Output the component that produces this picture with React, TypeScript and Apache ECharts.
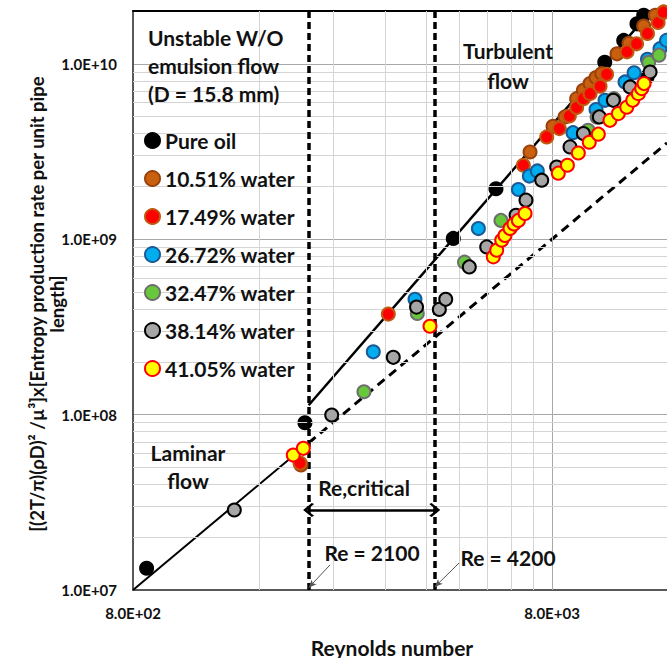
import React, { useEffect, useRef } from "react";
import * as echarts from "echarts";

// ---- axes ----
const xMin = 800;
const xMax = 15050;
const yMin = 1e7;
const yMax = 2e10;
const xTickLabels = [800, 8000];
const xMinorGrid = [1600, 2400, 3200, 4000, 4800, 5600, 6400, 7200];
const xMajorGrid = [8000];
const yMinorGrid = [
  2e7, 3e7, 4e7, 5e7, 6e7, 7e7, 8e7, 9e7,
  2e8, 3e8, 4e8, 5e8, 6e8, 7e8, 8e8, 9e8,
  2e9, 3e9, 4e9, 5e9, 6e9, 7e9, 8e9, 9e9,
];

// ---- critical Reynolds numbers ----
const reCritical = [2100, 4200];
const criticalArrowLevel = 2.86e7;

// ---- series names ----
const seriesNames = [
  "Pure oil",
  "10.51% water",
  "17.49% water",
  "26.72% water",
  "32.47% water",
  "38.14% water",
  "41.05% water",
];

// ---- data [Re, value] ----
const pureOil = [
  [862, 1.33e7], [2058, 8.98e7], [4650, 1.01e9], [5880, 1.94e9],
  [10690, 1.02e10], [11865, 1.36e10], [12760, 1.69e10], [13240, 1.89e10],
  [13490, 8.4e9],
];
const water1051 = [
  [2014, 5.16e7], [7090, 3.14e9], [8045, 4.4e9], [8590, 4.98e9], [9160, 6.33e9],
  [9505, 7.06e9], [9860, 7.71e9], [10190, 8.35e9], [10515, 8.79e9], [11435, 1.14e10],
  [12215, 1.31e10], [13240, 1.64e10], [14115, 1.89e10], [14785, 1.97e10],
];
const water1749 = [
  [2003, 5.29e7], [3254, 3.74e8], [6835, 2.64e9], [7771, 3.83e9], [8328, 4.27e9],
  [8800, 5.04e9], [9160, 5.63e9], [9505, 6.33e9], [9860, 6.76e9], [10418, 7.45e9],
  [10800, 8.71e9], [12080, 1.17e10], [12730, 1.3e10], [13520, 1.49e10],
  [14330, 1.72e10], [14750, 1.97e10],
];
const water2672 = [
  [2996, 2.28e8], [3768, 4.54e8], [5338, 1.15e9], [6650, 1.92e9], [7063, 2.29e9],
  [7379, 2.45e9], [8979, 4.05e9], [10190, 5.48e9], [10705, 6.19e9], [11950, 7.88e9],
  [12560, 8.89e9], [13520, 1.06e10], [14480, 1.22e10], [15010, 1.36e10],
];
const water3247 = [
  [2846, 1.35e8], [3816, 3.77e8], [4946, 7.4e8], [6043, 1.28e9], [9753, 4.18e9],
  [10250, 4.96e9], [11245, 6.33e9], [13610, 1.02e10], [14400, 1.12e10],
];
const water3814 = [
  [1396, 2.86e7], [2384, 9.94e7], [3344, 2.12e8], [3800, 4.1e8], [4307, 3.98e8],
  [4461, 4.54e8], [5078, 6.95e8], [5588, 9.04e8], [6566, 1.37e9], [6934, 1.67e9],
  [7560, 2.17e9], [8208, 2.58e9], [8831, 3.36e9], [9505, 4.0e9], [10376, 4.98e9],
  [11206, 6.19e9], [12286, 7.38e9], [13713, 8.98e9],
];
const water4105 = [
  [1930, 5.88e7], [2040, 6.42e7], [4091, 3.19e8], [5795, 7.93e8], [5903, 8.66e8],
  [6068, 9.87e8], [6178, 1.05e9], [6351, 1.15e9], [6492, 1.22e9], [6650, 1.28e9],
  [6898, 1.4e9], [8281, 2.38e9], [8707, 2.64e9], [9245, 3.1e9], [9818, 3.57e9],
  [10318, 3.97e9], [11000, 4.76e9], [11518, 5.2e9], [12064, 5.65e9], [12466, 6.19e9],
  [12856, 6.76e9], [13097, 7.22e9], [13264, 7.71e9],
];

// ---- fitted lines ----
const laminarFit = [[800, 1e7], [2100, 6.89e7]];
const laminarExtension = [[2100, 6.89e7], [15050, 3.54e9]];
const turbulentFit = [[2100, 1.13e8], [14000, 2.09e10]];

// ---- pointer arrows (from label to line) ----
const pointer2100 = [[2362, 1.39e7], [2100, 1.03e7]];
const pointer4200 = [[4799, 1.425e7], [4200, 1.04e7]];

const seriesData = [pureOil, water1051, water1749, water2672, water3247, water3814, water4105];
const seriesStyles = [
  { color: "#000000", borderColor: "#000000" },
  { color: "#c8600f", borderColor: "#9a420b" },
  { color: "#ff0000", borderColor: "#c0580f" },
  { color: "#00aef0", borderColor: "#1b5a96" },
  { color: "#66c83a", borderColor: "#6e6e6e" },
  { color: "#a6a6a6", borderColor: "#000000" },
  { color: "#ffff00", borderColor: "#ff0000" },
];

const FONT = "Lato, 'Open Sans', sans-serif";

const sci = (v: number) => {
  const s = Number(v).toExponential(1).toUpperCase();
  const [m, e] = s.split("E");
  return `${m}E${e[0]}${e.slice(1).padStart(2, "0")}`;
};

const chevron = "path://M0,0 L12,9 L10,11.5 L0,4 L-10,11.5 L-12,9 Z";

export default function App() {
  const ref = useRef<HTMLDivElement>(null);
  useEffect(() => {
    if (!ref.current) return;
    const chart = echarts.init(ref.current, undefined, { renderer: "svg" });
    const minor = { color: "#d4d4d4", width: 1, type: "solid" };
    const major = { color: "#a8a8a8", width: 1, type: "solid" };
    const textStyle = (extra: any) => ({
      fontFamily: FONT,
      fontWeight: "bold",
      fontSize: 21,
      fill: "#111",
      ...extra,
    });
    const option: any = {
      animation: false,
      backgroundColor: "#ffffff",
      grid: { left: 133, top: 11, right: 0, bottom: 68, containLabel: false },
      xAxis: [
        {
          type: "log",
          logBase: 10,
          min: xMin,
          max: xMax,
          axisLine: { show: true, lineStyle: { color: "#595959", width: 2 } },
          axisTick: { show: false },
          splitLine: { show: false },
          axisLabel: {
            show: true,
            customValues: xTickLabels,
            formatter: (v: number) => sci(v),
            fontFamily: FONT,
            fontWeight: "bold",
            fontSize: 15,
            color: "#111",
            margin: 15,
          },
        },
        {
          type: "log",
          position: "top",
          min: xMin,
          max: xMax,
          axisLine: { show: true, onZero: false, lineStyle: { color: "#000", width: 2 } },
          axisTick: { show: false },
          axisLabel: { show: false },
          splitLine: { show: false },
        },
      ],
      yAxis: {
        type: "log",
        logBase: 10,
        min: yMin,
        max: yMax,
        axisLine: { show: true, lineStyle: { color: "#595959", width: 2 } },
        axisTick: { show: false },
        splitLine: { show: true, lineStyle: major },
        axisLabel: {
          formatter: (v: number) => sci(v),
          showMaxLabel: false,
          fontFamily: FONT,
          fontWeight: "bold",
          fontSize: 15,
          color: "#111",
          margin: 16,
        },
      },
      legend: {
        orient: "vertical",
        left: 144,
        top: 130,
        padding: 0,
        icon: "circle",
        itemWidth: 15,
        itemHeight: 15,
        itemGap: 17,
        data: seriesNames,
        selectedMode: false,
        z: 10,
        textStyle: { fontFamily: FONT, fontWeight: "bold", fontSize: 21, color: "#111" },
      },
      series: [
        {
          type: "line",
          data: [],
          z: 1,
          silent: true,
          markLine: {
            silent: true,
            symbol: ["none", "none"],
            animation: false,
            label: { show: false },
            data: [
              ...xMinorGrid.map((v) => ({ xAxis: v, lineStyle: minor })),
              ...xMajorGrid.map((v) => ({ xAxis: v, lineStyle: major })),
              ...yMinorGrid.map((v) => ({ yAxis: v, lineStyle: minor })),
            ],
          },
        },
        {
          type: "line",
          data: laminarFit,
          symbol: "none",
          z: 3,
          lineStyle: { color: "#000", width: 2 },
        },
        {
          type: "line",
          data: laminarExtension,
          symbol: "none",
          z: 3,
          lineStyle: { color: "#000", width: 3, type: [9, 6] },
        },
        {
          type: "line",
          data: turbulentFit,
          symbol: "none",
          z: 3,
          lineStyle: { color: "#000", width: 2.5 },
        },
        {
          type: "line",
          data: [],
          z: 3,
          silent: true,
          markLine: {
            silent: true,
            animation: false,
            symbol: ["none", "none"],
            label: { show: false },
            data: [
              ...reCritical.map((v) => ({
                xAxis: v,
                lineStyle: { color: "#000", width: 3.5, type: [7, 4] },
              })),
              [
                { coord: [reCritical[0], criticalArrowLevel], symbol: chevron, symbolSize: [14, 11], lineStyle: { color: "#000", width: 2.5, type: "solid" } },
                { coord: [reCritical[1], criticalArrowLevel], symbol: chevron, symbolSize: [14, 11] },
              ],
              [
                { coord: pointer2100[0], symbol: "none", lineStyle: { color: "#555", width: 1, type: "solid" } },
                { coord: pointer2100[1], symbol: "arrow", symbolSize: [5, 8] },
              ],
              [
                { coord: pointer4200[0], symbol: "none", lineStyle: { color: "#555", width: 1, type: "solid" } },
                { coord: pointer4200[1], symbol: "arrow", symbolSize: [5, 8] },
              ],
            ],
          },
        },
        ...seriesNames.map((name, i) => ({
          name,
          type: "scatter",
          data: seriesData[i],
          symbol: "circle",
          symbolSize: 13,
          z: 4 + i,
          itemStyle: { ...seriesStyles[i], borderWidth: 2, opacity: 1 },
        })),
      ],
      graphic: [
        { type: "text", x: 148, y: 37, z: 100, style: textStyle({ text: "Unstable W/O", verticalAlign: "middle" }) },
        { type: "text", x: 148, y: 65, z: 100, style: textStyle({ text: "emulsion flow", verticalAlign: "middle" }) },
        { type: "text", x: 148, y: 93, z: 100, style: textStyle({ text: "(D = 15.8 mm)", verticalAlign: "middle" }) },
        { type: "text", x: 508, y: 50, z: 100, style: textStyle({ text: "Turbulent", align: "center", verticalAlign: "middle" }) },
        { type: "text", x: 508, y: 80, z: 100, style: textStyle({ text: "flow", align: "center", verticalAlign: "middle" }) },
        { type: "text", x: 188, y: 452, z: 100, style: textStyle({ text: "Laminar", align: "center", verticalAlign: "middle" }) },
        { type: "text", x: 188, y: 480, z: 100, style: textStyle({ text: "flow", align: "center", verticalAlign: "middle" }) },
        { type: "text", x: 364, y: 487, z: 100, style: textStyle({ text: "Re,critical", align: "center", verticalAlign: "middle" }) },
        { type: "text", x: 372, y: 552, z: 100, style: textStyle({ text: "Re = 2100", align: "center", verticalAlign: "middle" }) },
        { type: "text", x: 508, y: 557, z: 100, style: textStyle({ text: "Re = 4200", align: "center", verticalAlign: "middle" }) },
        { type: "text", x: 392, y: 647, z: 100, style: textStyle({ text: "Reynolds number", align: "center", verticalAlign: "middle" }) },
        {
          type: "text",
          x: 47,
          y: 304,
          rotation: Math.PI / 2,
          z: 100,
          style: textStyle({
            text: "[(2T/π)(ρD)² /µ³]x[Entropy production rate per unit pipe\nlength]",
            align: "center",
            verticalAlign: "middle",
            fontSize: 18.5,
            lineHeight: 20,
          }),
        },
      ],
    };
    chart.setOption(option);
    return () => chart.dispose();
  }, []);
  return (
    <div
      ref={ref}
      style={{ position: "absolute", left: 0, top: 0, width: 667, height: 658, background: "#fff" }}
    />
  );
}
